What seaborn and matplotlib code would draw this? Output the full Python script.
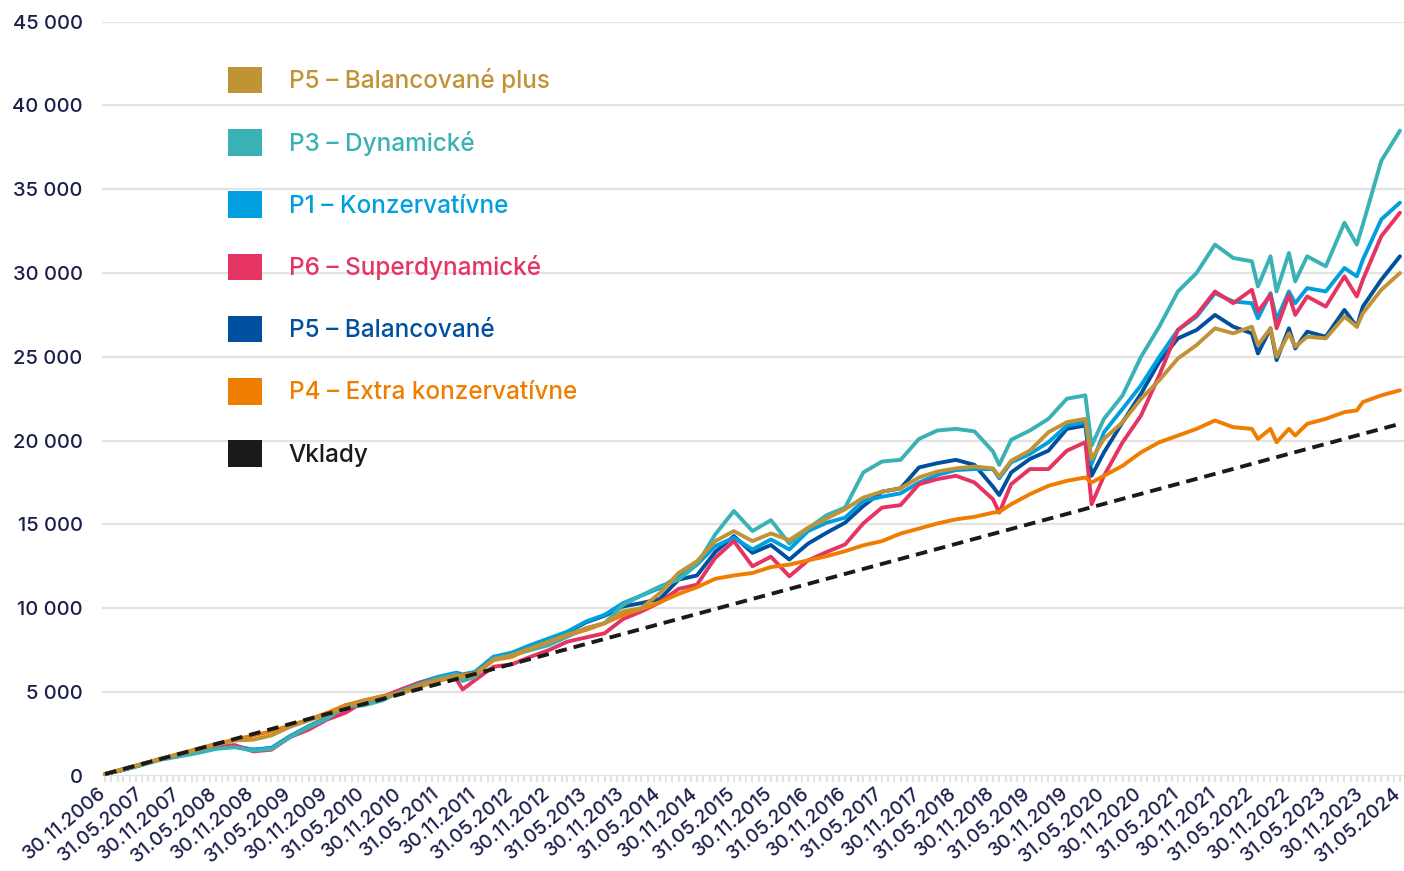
import matplotlib
matplotlib.use("Agg")
import matplotlib.pyplot as plt
import matplotlib.dates as mdates
from matplotlib.patches import Patch
from matplotlib.transforms import ScaledTranslation
import pandas as pd
import seaborn as sns

# quarterly readings (plus a few months where the curves turn sharply)
months = [
    "2006-11",
    "2007-02", "2007-05", "2007-08", "2007-11",
    "2008-02", "2008-05", "2008-08", "2008-11",
    "2009-02", "2009-05", "2009-08", "2009-11",
    "2010-02", "2010-05", "2010-08", "2010-11",
    "2011-02", "2011-05", "2011-08", "2011-09", "2011-11",
    "2012-02", "2012-05", "2012-08", "2012-11",
    "2013-02", "2013-05", "2013-08", "2013-11",
    "2014-02", "2014-05", "2014-08", "2014-11",
    "2015-02", "2015-05", "2015-08", "2015-11",
    "2016-02", "2016-05", "2016-08", "2016-11",
    "2017-02", "2017-05", "2017-08", "2017-11",
    "2018-02", "2018-05", "2018-08", "2018-11", "2018-12",
    "2019-02", "2019-05", "2019-08", "2019-11",
    "2020-02", "2020-03", "2020-05", "2020-08", "2020-11",
    "2021-02", "2021-05", "2021-08", "2021-11",
    "2022-02", "2022-05", "2022-06", "2022-08", "2022-09", "2022-11", "2022-12",
    "2023-02", "2023-05", "2023-08", "2023-10", "2023-11",
    "2024-02", "2024-05",
]

p3_dynamicke = [
    100,
    350, 650, 950, 1150,
    1350, 1600, 1700, 1500,
    1600, 2300, 2900, 3400,
    4150, 4200, 4500, 5050,
    5450, 5800, 6050, 5650, 5900,
    7000, 7200, 7500, 7800,
    8300, 8800, 9100, 10200,
    10750, 11300, 11700, 12600,
    14400, 15800, 14600, 15250,
    13850, 14750, 15550, 16000,
    18100, 18750, 18850, 20100,
    20600, 20700, 20550, 19350, 18550,
    20050, 20600, 21300, 22500,
    22700, 19700, 21300, 22700, 25000,
    26800, 28900, 30000, 31700,
    30900, 30700, 29200, 31000, 28900, 31200, 29500,
    31000, 30400, 33000, 31700, 32900,
    36700, 38500,
]

p1_konzervativne = [
    100,
    350, 650, 1000, 1200,
    1450, 1650, 1750, 1550,
    1650, 2350, 2950, 3450,
    4200, 4450, 4700, 5100,
    5550, 5900, 6150, 6050, 6200,
    7100, 7350, 7800, 8200,
    8600, 9200, 9600, 10300,
    10750, 11200, 11900, 12600,
    13700, 14200, 13500, 14100,
    13500, 14600, 15100, 15400,
    16400, 16650, 16850, 17500,
    17950, 18240, 18300, 18300, 17750,
    18700, 19200, 19900, 20900,
    21100, 18600, 20500, 21900, 23300,
    25000, 26600, 27400, 28800,
    28300, 28200, 27300, 28800, 27200, 28900, 28200,
    29100, 28900, 30300, 29800, 30800,
    33200, 34200,
]

p6_superdynamicke = [
    100,
    350, 700, 1000, 1250,
    1450, 1700, 1830, 1450,
    1550, 2300, 2750, 3350,
    3750, 4420, 4700, 5150,
    5550, 5800, 5750, 5150, 5700,
    6500, 6650, 7100, 7500,
    8000, 8250, 8500, 9350,
    9800, 10350, 11150, 11400,
    13000, 14000, 12500, 13070,
    11900, 12850, 13350, 13800,
    15060, 16000, 16150, 17400,
    17700, 17900, 17500, 16500, 15700,
    17400, 18300, 18300, 19400,
    19900, 16200, 17900, 19900, 21500,
    23900, 26600, 27500, 28900,
    28200, 29000, 27700, 28700, 26700, 28700, 27500,
    28600, 28000, 29800, 28600, 29600,
    32200, 33600,
]

p5_balancovane = [
    100,
    350, 650, 1000, 1200,
    1450, 1650, 1750, 1550,
    1650, 2350, 2950, 3450,
    4150, 4400, 4700, 5100,
    5500, 5850, 6100, 5950, 6150,
    7050, 7300, 7750, 8150,
    8550, 9150, 9550, 10100,
    10300, 10550, 11700, 11950,
    13350, 14300, 13300, 13770,
    12900, 13850, 14500, 15100,
    16100, 16950, 17150, 18400,
    18650, 18850, 18550, 17250, 16750,
    18100, 18900, 19400, 20700,
    20900, 17900, 19300, 21100, 22800,
    24700, 26100, 26600, 27500,
    26800, 26400, 25200, 26700, 24800, 26700, 25500,
    26500, 26200, 27800, 26800, 28000,
    29600, 31000,
]

p5_balancovane_plus = [
    100,
    400, 700, 1000, 1300,
    1550, 1850, 2100, 2150,
    2400, 2920, 3300, 3650,
    4100, 4450, 4750, 4900,
    5300, 5650, 5900, 5900, 6000,
    6900, 7200, 7600, 8000,
    8400, 8800, 9100, 9800,
    10000, 10900, 12100, 12800,
    14000, 14600, 14000, 14460,
    14060, 14800, 15350, 15900,
    16600, 16950, 17150, 17800,
    18150, 18340, 18450, 18340, 17850,
    18800, 19400, 20500, 21100,
    21300, 18900, 20100, 21100, 22500,
    23600, 24900, 25700, 26700,
    26400, 26800, 25700, 26700, 25000, 26400, 25600,
    26200, 26100, 27400, 26800, 27600,
    29000, 30000,
]

p4_extra_konzervativne = [
    100,
    400, 700, 1000, 1300,
    1600, 1900, 2150, 2400,
    2650, 3000, 3350, 3750,
    4200, 4500, 4750, 4950,
    5350, 5700, 5950, 6000, 6100,
    6900, 7100, 7600, 8000,
    8400, 8700, 9100, 9600,
    9950, 10350, 10850, 11250,
    11750, 11950, 12100, 12450,
    12600, 12850, 13100, 13400,
    13750, 14000, 14450, 14750,
    15050, 15300, 15450, 15700, 15750,
    16200, 16800, 17300, 17600,
    17800, 17500, 17900, 18500, 19300,
    19900, 20300, 20700, 21200,
    20800, 20700, 20100, 20700, 19900, 20700, 20300,
    21000, 21300, 21700, 21800, 22300,
    22700, 23000,
]

# deposits grow in a straight line
vklady_months = ["2006-11", "2024-05"]
vklady = [100, 21000]

labels = [
    "P5 – Balancované plus",
    "P3 – Dynamické",
    "P1 – Konzervatívne",
    "P6 – Superdynamické",
    "P5 – Balancované",
    "P4 – Extra konzervatívne",
    "Vklady",
]
colors = ["#c29237", "#3ab2b5", "#00a0e0", "#e63462", "#0050a0", "#ef7d00", "#1a1a1a"]

series = [p5_balancovane_plus, p3_dynamicke, p1_konzervativne, p6_superdynamicke,
          p5_balancovane, p4_extra_konzervativne]

dates = pd.to_datetime(months) + pd.offsets.MonthEnd(0)
frames = []
for name, vals in zip(labels[:6], series):
    frames.append(pd.DataFrame({"date": dates, "value": vals, "fund": name}))
df = pd.concat(frames, ignore_index=True)

vk = pd.DataFrame({"date": pd.to_datetime(vklady_months) + pd.offsets.MonthEnd(0), "value": vklady})

sns.set_theme(style="white")
plt.rcParams["font.family"] = ["Inter", "DejaVu Sans"]

text_color = "#1b1f4b"
grid_color = "#e3e3e3"

fig = plt.figure(figsize=(14.04, 8.71), dpi=100)
ax = fig.add_axes([102 / 1404, (871 - 775.7) / 871, (1404 - 102) / 1404, (775.7 - 21.7) / 871])

# drawing order: bottom to top
draw_order = [labels[4], labels[2], labels[3], labels[1], labels[5], labels[0]]
palette = dict(zip(labels, colors))
sns.lineplot(data=df, x="date", y="value", hue="fund", hue_order=draw_order,
             palette=palette, linewidth=2.8, legend=False, errorbar=None, ax=ax)
sns.lineplot(data=vk, x="date", y="value", color=colors[6], linewidth=2.8,
             linestyle=(0, (3.0, 1.8)), errorbar=None, ax=ax)

ax.set_ylim(0, 45000)
ax.set_xlim(pd.Timestamp("2006-11-15"), pd.Timestamp("2024-06-20"))
ax.set_yticks(range(0, 45001, 5000))
ax.set_yticklabels([f"{v:,}".replace(",", " ") for v in range(0, 45001, 5000)])
ax.grid(axis="y", color=grid_color, linewidth=1.6)
ax.grid(axis="x", visible=False)
for s in ax.spines.values():
    s.set_visible(False)

ax.xaxis.set_major_locator(mdates.RRuleLocator(
    mdates.rrulewrapper(mdates.MONTHLY, bymonth=(5, 11), bymonthday=-1)))
ax.xaxis.set_minor_locator(mdates.RRuleLocator(
    mdates.rrulewrapper(mdates.MONTHLY, bymonthday=-1)))
ax.xaxis.set_major_formatter(mdates.DateFormatter("%d.%m.%Y"))

ax.tick_params(axis="x", which="both", bottom=True, length=4, width=1.6,
               color=grid_color, direction="out", pad=2)
ax.tick_params(axis="x", which="major", labelsize=14, labelcolor=text_color)
ax.tick_params(axis="y", length=0, pad=14, labelsize=14.5, labelcolor=text_color)
for lab in ax.get_xticklabels() + ax.get_yticklabels():
    lab.set_fontweight("medium")
# nudge the rotated date labels a little to the left so the last one stays inside
shift = ScaledTranslation(-5 / 72, 0, fig.dpi_scale_trans)
for lab in ax.get_xticklabels():
    lab.set_rotation(40)
    lab.set_ha("right")
    lab.set_va("top")
    lab.set_rotation_mode("anchor")
    lab.set_transform(lab.get_transform() + shift)
ax.set_xlabel("")
ax.set_ylabel("")

handles = [Patch(facecolor=c, edgecolor="none") for c in colors]
ax.legend(handles, labels, loc="upper left", bbox_to_anchor=(228 / 1404, 1 - 67 / 871),
          bbox_transform=fig.transFigure, frameon=False, borderaxespad=0, borderpad=0,
          labelcolor=colors[:6] + ["#1a1a1a"], handlelength=1.4,
          handleheight=1.3, handletextpad=1.1, labelspacing=1.47,
          prop={"size": 17.5, "weight": "medium"})

fig.savefig("out.png", dpi=100)
